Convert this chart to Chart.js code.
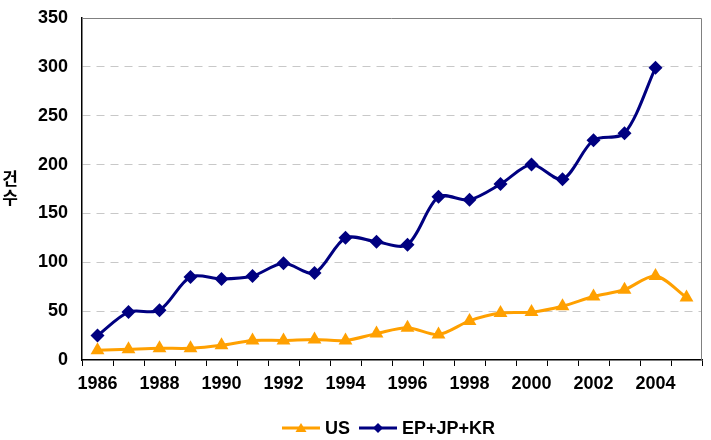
<!DOCTYPE html>
<html>
<head>
<meta charset="utf-8">
<script src="https://cdn.jsdelivr.net/npm/chart.js"></script>
<style>
  html, body { margin: 0; padding: 0; background: #fff; }
  #wrap { width: 711px; height: 440px; }
</style>
</head>
<body>
<div id="wrap"><canvas id="chart" width="711" height="440"></canvas></div>
<script>
// years on the category axis
const years = ['1986', '1987', '1988', '1989', '1990', '1991', '1992', '1993', '1994', '1995',
  '1996', '1997', '1998', '1999', '2000', '2001', '2002', '2003', '2004', '2005'];

// US filings
const usValues = [10, 11, 12, 12, 15, 20, 20, 21, 20, 27,
  33, 26, 40, 48, 49, 55, 65, 72, 86, 64];

// EP+JP+KR filings (no value for 2005)
const epJpKrValues = [25, 49, 51, 85, 83, 86, 99, 89, 125, 121,
  118, 167, 164, 180, 200, 185, 225, 232, 299, null];

const yTicks = [0, 50, 100, 150, 200, 250, 300, 350];
const yTitle = ['건', '수'];

const NAVY = '#000080';
const ORANGE = '#FFA000';
const FONT = "'Liberation Sans', Arial, sans-serif";

function drawMarker(g, shape, x, y, r) {
  g.beginPath();
  if (shape === 'triangle') {
    g.moveTo(x, y - r); g.lineTo(x + r * 1.1, y + r * 0.8); g.lineTo(x - r * 1.1, y + r * 0.8);
  } else {
    g.moveTo(x, y - r); g.lineTo(x + r, y); g.lineTo(x, y + r); g.lineTo(x - r, y);
  }
  g.closePath();
  g.fill();
}

// gray frame on top and right, stacked y title, legend at the bottom
const framePlugin = {
  id: 'frame',
  beforeDatasetsDraw(chart) {
    const { ctx, chartArea: a } = chart;
    ctx.save();
    ctx.strokeStyle = '#808080';
    ctx.lineWidth = 1;
    ctx.beginPath();
    ctx.moveTo(a.left, a.top + 0.5);
    ctx.lineTo(a.right - 0.5, a.top + 0.5);
    ctx.lineTo(a.right - 0.5, a.bottom);
    ctx.stroke();
    ctx.restore();
  },
  afterDraw(chart) {
    const { ctx, chartArea: a } = chart;
    ctx.save();
    ctx.fillStyle = '#000';
    ctx.font = "bold 17px 'Noto Sans CJK KR', sans-serif";
    ctx.textAlign = 'center';
    ctx.textBaseline = 'middle';
    const mid = (a.top + a.bottom) / 2;
    ctx.fillText(yTitle[0], 10, mid - 10);
    ctx.fillText(yTitle[1], 10, mid + 9);

    // legend
    const shapes = ['triangle', 'diamond'];
    let x = 282;
    const y = 428;
    ctx.font = 'bold 18px ' + FONT;
    ctx.textAlign = 'left';
    chart.data.datasets.forEach((ds, i) => {
      ctx.strokeStyle = ds.borderColor;
      ctx.fillStyle = ds.borderColor;
      ctx.lineWidth = 3;
      ctx.beginPath();
      ctx.moveTo(x, y); ctx.lineTo(x + 38, y);
      ctx.stroke();
      drawMarker(ctx, shapes[i], x + 19, y, 5);
      ctx.fillStyle = '#000';
      ctx.fillText(ds.label, x + 43, y + 1);
      x += 43 + ctx.measureText(ds.label).width + 9;
    });
    ctx.restore();
  }
};

new Chart(document.getElementById('chart'), {
  type: 'line',
  data: {
    labels: years,
    datasets: [
      {
        label: 'US',
        data: usValues,
        borderColor: ORANGE,
        backgroundColor: ORANGE,
        borderWidth: 3,
        tension: 0.3,
        pointStyle: 'triangle',
        pointRadius: 8,
        pointBorderWidth: 0,
        pointBackgroundColor: ORANGE
      },
      {
        label: 'EP+JP+KR',
        data: epJpKrValues,
        borderColor: NAVY,
        backgroundColor: NAVY,
        borderWidth: 3,
        tension: 0.3,
        pointStyle: 'rectRot',
        pointRadius: 7,
        pointBorderWidth: 0,
        pointBackgroundColor: NAVY
      }
    ]
  },
  options: {
    responsive: false,
    animation: false,
    layout: { padding: { top: 18, right: 9, left: 0, bottom: 0 } },
    plugins: {
      legend: { display: false },
      tooltip: { enabled: false }
    },
    scales: {
      x: {
        type: 'category',
        offset: true,
        grid: {
          offset: true,
          drawOnChartArea: false,
          drawTicks: true,
          tickLength: 6,
          color: '#000',
          lineWidth: 1
        },
        border: { display: true, color: '#000', width: 1.5 },
        ticks: {
          autoSkip: false,
          maxRotation: 0,
          color: '#000',
          padding: 7,
          font: { family: FONT, size: 18, weight: 'bold' },
          callback(val, idx) { return idx % 2 === 0 ? this.getLabelForValue(val) : ''; }
        },
        afterFit(scale) { scale.height = 80; }
      },
      y: {
        min: 0,
        max: 350,
        afterBuildTicks(scale) { scale.ticks = yTicks.map(v => ({ value: v })); },
        grid: {
          drawTicks: false,
          color: ctx => (ctx.tick && ctx.tick.value > 0 && ctx.tick.value < 350) ? '#c8c8c8' : 'rgba(0,0,0,0)',
          lineWidth: 1
        },
        border: { display: true, color: '#000', width: 1.5, dash: [8, 6] },
        ticks: {
          color: '#000',
          padding: 14,
          font: { family: FONT, size: 18, weight: 'bold' }
        },
        afterFit(scale) {
          scale.width = 82;
          scale.paddingTop = 0;
          scale.paddingBottom = 0;
        }
      }
    }
  },
  plugins: [framePlugin]
});
</script>
</body>
</html>
